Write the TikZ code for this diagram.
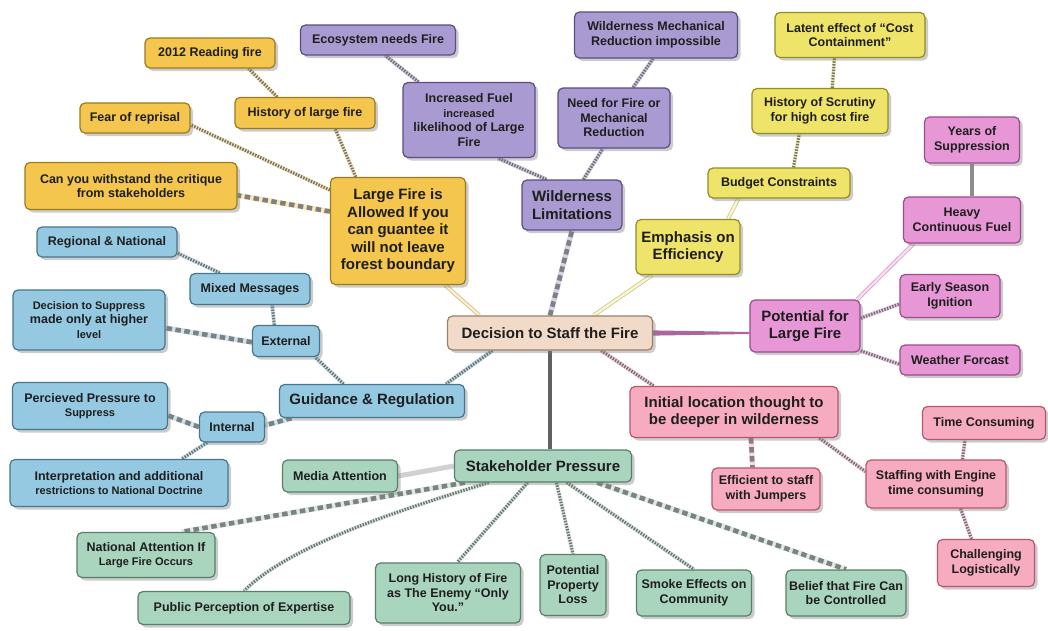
\documentclass[tikz,border=0pt]{standalone}
\usepackage{fontspec}
\setmainfont{Liberation Sans}
\usetikzlibrary{shadows,backgrounds,calc}

\definecolor{goldF}{HTML}{F4C64E} \definecolor{goldD}{HTML}{9C7A1E}
\definecolor{violF}{HTML}{A99BD1} \definecolor{violD}{HTML}{5B4C86}
\definecolor{yelF}{HTML}{EEE46A}  \definecolor{yelD}{HTML}{938B25}
\definecolor{magF}{HTML}{E897D6}  \definecolor{magD}{HTML}{9E4A8E}
\definecolor{pinkF}{HTML}{F7ABC0} \definecolor{pinkD}{HTML}{B9566F}
\definecolor{tanF}{HTML}{F1DAC8}  \definecolor{tanD}{HTML}{9A8068}
\definecolor{blueF}{HTML}{95C9E2} \definecolor{blueD}{HTML}{46758E}
\definecolor{grnF}{HTML}{A9D4BE}  \definecolor{grnD}{HTML}{577F6A}
\definecolor{ink}{HTML}{1E1E1E}

\newcommand\smallfont{\bfseries\fontsize{12.5}{14.5}\selectfont}
\newcommand\bigfont{\bfseries\fontsize{15}{17.5}\selectfont}
\newcommand\tinyline{\fontsize{11}{13}\selectfont}

\tikzset{
  box/.style={rounded corners=5pt, line width=1.2pt, align=center, inner sep=2pt,
    text=ink, font=\smallfont,
    drop shadow={shadow xshift=3pt, shadow yshift=-3pt, opacity=0.4}},
  big/.style={font=\bigfont},
  sz/.style 2 args={minimum width=#1pt, minimum height=#2pt},
  nGold/.style={box, fill=goldF, draw=goldD},
  nViol/.style={box, fill=violF, draw=violD},
  nYel/.style={box, fill=yelF, draw=yelD},
  nMag/.style={box, fill=magF, draw=magD},
  nPink/.style={box, fill=pinkF, draw=pinkD},
  nTan/.style={box, fill=tanF, draw=tanD},
  nBlue/.style={box, fill=blueF, draw=blueD},
  nGrn/.style={box, fill=grnF, draw=grnD},
  link/.style={line width=3pt, draw=black!55, dash pattern=on 1.5pt off 1.3pt,
    preaction={draw=#1, line width=4.2pt, solid}},
  coarse/.style={line width=4.6pt, draw=black!50, dash pattern=on 5.5pt off 3.5pt,
    preaction={draw=#1, line width=5.4pt, solid}},
  hollow/.style 2 args={draw=#1, double=#2, line width=0.8pt, double distance=2.4pt},
}

\begin{document}
\begin{tikzpicture}[x=1pt, y=-1pt]
\useasboundingbox (0,0) rectangle (1048,630);

% centre
\node[nTan, big, sz={205}{34}] (dec) at (550,333) {Decision to Staff the Fire};

% large fire branch
\node[nGold, sz={130}{30}] (rf) at (210,53) {2012 Reading fire};
\node[nGold, sz={140}{31}] (hlf) at (305,113) {History of large fire};
\node[nGold, sz={110}{30}] (fear) at (135,118) {Fear of reprisal};
\node[nGold, sz={212}{47}] (crit) at (131,186) {Can you withstand the critique\\from stakeholders};
\node[nGold, big, sz={135}{107}] (lf) at (398,231) {Large Fire is\\Allowed If you\\can guantee it\\will not leave\\forest boundary};

% wilderness branch
\node[nViol, sz={155}{30}] (eco) at (378,40) {Ecosystem needs Fire};
\node[nViol, sz={132}{75}] (inc) at (469,120) {Increased Fuel\\{\tinyline increased}\\likelihood of Large\\Fire};
\node[nViol, sz={163}{46}] (wmr) at (656,35) {Wilderness Mechanical\\Reduction impossible};
\node[nViol, sz={112}{60}] (need) at (614,118) {Need for Fire or\\Mechanical\\Reduction};
\node[nViol, big, sz={100}{50}] (wl) at (572,205) {Wilderness\\Limitations};

% efficiency branch
\node[nYel, sz={150}{45}] (lat) at (850,35) {Latent effect of ``Cost\\Containment''};
\node[nYel, sz={136}{45}] (scr) at (820,111) {History of Scrutiny\\for high cost fire};
\node[nYel, sz={142}{30}] (bud) at (779,183) {Budget Constraints};
\node[nYel, big, sz={104}{55}] (emph) at (688,247) {Emphasis on\\Efficiency};

% potential branch
\node[nMag, sz={95}{46}] (yrs) at (972,140) {Years of\\Suppression};
\node[nMag, sz={117}{46}] (heavy) at (962,220) {Heavy\\Continuous Fuel};
\node[nMag, sz={100}{43}] (early) at (950,296) {Early Season\\Ignition};
\node[nMag, big, sz={110}{52}] (pot) at (805,326) {Potential for\\Large Fire};
\node[nMag, sz={120}{30}] (wea) at (960,360) {Weather Forcast};

% location branch
\node[nPink, big, sz={208}{51}] (init) at (734,412) {Initial location thought to\\be deeper in wilderness};
\node[nPink, sz={123}{33}] (time) at (984,423) {Time Consuming};
\node[nPink, sz={108}{42}] (eff) at (766,489) {Efficient to staff\\with Jumpers};
\node[nPink, sz={140}{48}] (staff) at (936,484) {Staffing with Engine\\time consuming};
\node[nPink, sz={97}{47}] (chal) at (986,563) {Challenging\\Logistically};

% guidance branch
\node[nBlue, sz={140}{30}] (reg) at (107,242) {Regional \& National};
\node[nBlue, sz={120}{31}] (mix) at (250,289) {Mixed Messages};
\node[nBlue, sz={152}{60}] (dsup) at (89,320) {{\tinyline Decision to Suppress}\\made only at higher\\{\tinyline level}};
\node[nBlue, sz={67}{31}] (ext) at (286,341) {External};
\node[nBlue, big, sz={185}{33}] (guid) at (372,401) {Guidance \& Regulation};
\node[nBlue, sz={155}{47}] (perc) at (90,406) {Percieved Pressure to\\{\tinyline Suppress}};
\node[nBlue, sz={65}{30}] (int) at (232,427) {Internal};
\node[nBlue, sz={218}{47}] (interp) at (119,483) {Interpretation and additional\\{\tinyline restrictions to National Doctrine}};

% stakeholder branch
\node[nGrn, sz={115}{32}] (media) at (340,476) {Media Attention};
\node[nGrn, big, sz={177}{32}] (stake) at (543,466) {Stakeholder Pressure};
\node[nGrn, sz={138}{45}] (nat) at (146,555) {National Attention If\\{\tinyline Large Fire Occurs}};
\node[nGrn, sz={212}{33}] (pub) at (244,608) {Public Perception of Expertise};
\node[nGrn, sz={145}{60}] (long) at (448,593) {Long History of Fire\\as The Enemy ``Only\\You.''};
\node[nGrn, sz={66}{61}] (prop) at (573,585) {Potential\\Property\\Loss};
\node[nGrn, sz={115}{46}] (smoke) at (694,593) {Smoke Effects on\\Community};
\node[nGrn, sz={120}{46}] (belief) at (846,593) {Belief that Fire Can\\be Controlled};

\coordinate (potIn) at (pot.west |- dec.east);
\coordinate (stakeIn) at (dec.south |- stake.north);
\coordinate (heavyIn) at (yrs.south |- heavy.north);

\begin{scope}[on background layer]
  \fill[white] (0,0) rectangle (1048,630);
  % spokes from the centre
  \draw[hollow={goldD!50}{goldF!30}] (dec.166) -- (lf.311);
  \draw[coarse=violF!45] (dec.north) -- (wl.south);
  \draw[hollow={yelD!50}{yelF!35}] (dec.22) -- (emph.218);
  \fill[magD!85] ($(dec.east)+(0,-2.6)$) -- ($(potIn)+(0,-1)$) -- ($(potIn)+(0,1)$) -- ($(dec.east)+(0,2.6)$) -- cycle;
  \draw[link=pinkF!60] (dec.341) -- (init.162);
  \draw[line width=3.2pt, black!62] (dec.south) -- (stakeIn);
  \draw[link=blueF!60] (dec.197) -- (guid.13);
  % large fire
  \draw[link=goldF!40] (lf.128) -- (hlf.332);
  \draw[link=goldF!40] (lf.149) -- (fear.353);
  \draw[coarse=goldF!40] (lf.164) -- (crit.355);
  \draw[link=goldF!40] (hlf.150) -- (rf.338);
  % wilderness
  \draw[link=violF!50] (wl.135) -- (inc.307);
  \draw[link=violF!50] (wl.66) -- (need.250);
  \draw[link=violF!50] (inc.143) -- (eco.295);
  \draw[link=violF!50] (need.58) -- (wmr.263);
  % efficiency
  \draw[hollow={yelD!50}{yelF!35}] (emph.35) -- (bud.201);
  \draw[link=yelF!50] (bud.47) -- (scr.228);
  \draw[link=yelF!50] (scr.62) -- (lat.236);
  % potential for large fire
  \draw[hollow={magD!50}{magF!35}] (pot.27) -- (heavy.206);
  \draw[line width=3.2pt, black!45] (yrs.south) -- (heavyIn);
  \draw[link=magF!50] (pot.8) -- (early.189);
  \draw[link=magF!50] (pot.336) -- (wea.184);
  % initial location
  \draw[coarse=pinkF!50] (init.303) -- (eff.122);
  \draw[link=pinkF!50] (init.343) -- (staff.170);
  \draw[link=pinkF!50] (staff.43) -- (time.222);
  \draw[link=pinkF!50] (staff.315) -- (chal.121);
  % guidance
  \draw[link=blueF!50] (guid.149) -- (ext.331);
  \draw[coarse=blueF!50] (guid.192) -- (int.3);
  \draw[link=blueF!50] (ext.126) -- (mix.324);
  \draw[coarse=blueF!50] (ext.182) -- (dsup.354);
  \draw[link=blueF!50] (mix.152) -- (reg.351);
  \draw[coarse=blueF!50] (int.west) -- (perc.353);
  \draw[link=blueF!50] (int.212) -- (interp.21);
  % stakeholders
  \draw[line width=5pt, black!18] (stake.west) -- (media.east);
  \draw[coarse=grnF!45] (stake.192) -- (nat.33);
  \draw[link=grnF!45] (stake.197) .. controls (400,510) and (290,545) .. (pub.north);
  \draw[link=grnF!45] (stake.227) -- (long.73);
  \draw[link=grnF!45] (stake.309) -- (prop.north);
  \draw[link=grnF!45] (stake.325) -- (smoke.north);
  \draw[coarse=grnF!45] (stake.343) -- (belief.north);
\end{scope}
\end{tikzpicture}
\end{document}
